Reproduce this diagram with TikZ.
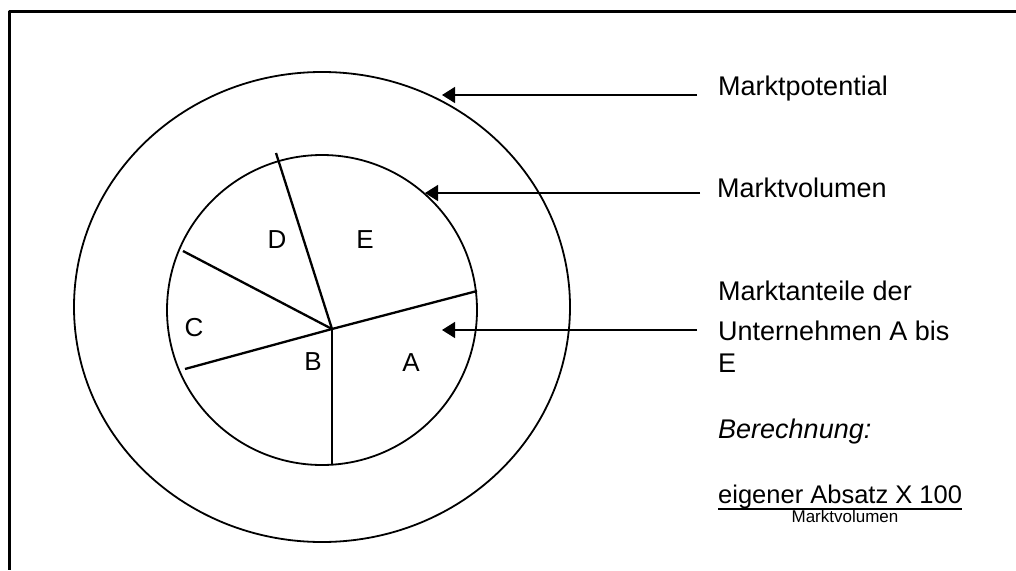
\documentclass[tikz,border=0pt]{standalone}
\usepackage{fontspec}
\setmainfont{Liberation Sans}
\usetikzlibrary{arrows.meta}
\begin{document}
\begin{tikzpicture}[x=1pt,y=-1pt, line join=round,
  lbl/.style={anchor=base west, inner sep=0pt, font=\fontsize{27}{32}\selectfont},
  seg/.style={inner sep=0pt, font=\fontsize{26}{30}\selectfont},
  arr/.style={line width=1.4pt, -{Triangle[length=13pt,width=16pt]}},
  ring/.style={line width=1.8pt},
  spoke/.style={line width=2.3pt},
  frame/.style={line width=3pt}]
\useasboundingbox (0,0) rectangle (1016,570);
% frame
\draw[frame] (1016,11) -- (9.5,11) -- (9.5,570);
% market potential and market volume
\draw[ring] (322,307) ellipse [x radius=248pt, y radius=235pt];
\draw[ring] (322,310) circle [radius=155pt];
% pie spokes
\coordinate (O) at (332,329);
\coordinate (pD) at (276,153);
\coordinate (pE) at (477,291);
\coordinate (pC) at (183,251);
\coordinate (pB) at (185,369);
\coordinate (pA) at (332,465);
\draw[spoke] (O) -- (pD);
\draw[spoke] (O) -- (pE);
\draw[spoke] (O) -- (pC);
\draw[spoke] (O) -- (pB);
\draw[spoke] (O) -- (pA);
% segment labels
\node[seg] (lD) at (277,240) {D};
\node[seg] (lE) at (365,240) {E};
\node[seg] (lC) at (194,328) {C};
\node[seg] (lB) at (313,362) {B};
\node[seg] (lA) at (411,363) {A};
% right labels
\node[lbl] (mp) at (718,95) {Marktpotential};
\node[lbl] (mv) at (717,197) {Marktvolumen};
\node[lbl] (ma1) at (718,300) {Marktanteile der};
\node[lbl] (ma2) at (718,340) {Unternehmen A bis};
\node[lbl] (ma3) at (718,372) {E};
\node[lbl, font=\fontsize{27}{32}\selectfont\itshape] (ber) at (718,438) {Berechnung:};
\node[lbl, font=\fontsize{25.5}{30}\selectfont] (num) at (718,503) {eigener Absatz X 100};
\node[inner sep=0pt, anchor=base, font=\fontsize{17}{20}\selectfont] (den) at (845,522) {Marktvolumen};
\coordinate (fl) at (718,509);
\coordinate (fr) at (962,509);
\draw[line width=2pt] (fl) -- (fr);
% arrows
\coordinate (mpS) at (697,95);
\coordinate (mpT) at (442,95);
\coordinate (mvS) at (700,193);
\coordinate (mvT) at (425,193);
\coordinate (maS) at (697,330);
\coordinate (maT) at (442,330);
\draw[arr] (mpS) -- (mpT);
\draw[arr] (mvS) -- (mvT);
\draw[arr] (maS) -- (maT);
\end{tikzpicture}
\end{document}
